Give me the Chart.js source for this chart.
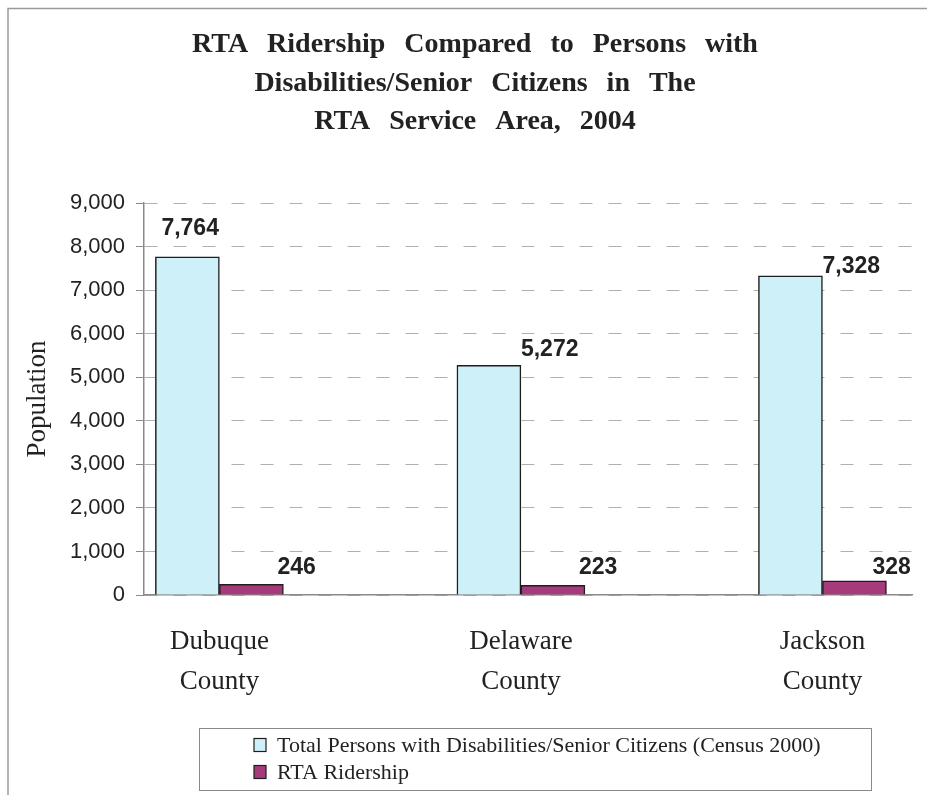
<!DOCTYPE html>
<html>
<head>
<meta charset="utf-8">
<script src="https://cdn.jsdelivr.net/npm/chart.js@4.4.1/dist/chart.umd.min.js"></script>
<style>
  html, body { margin: 0; padding: 0; background: #ffffff; }
  #wrap { width: 927px; height: 795px; position: relative; }
  canvas { display: block; }
</style>
</head>
<body>
<div id="wrap"><canvas id="c" width="927" height="795"></canvas></div>
<script>
// ---- data ----
const titleLines = ["RTA Ridership Compared to Persons with", "Disabilities/Senior Citizens in The", "RTA Service Area, 2004"];
const categories = [["Dubuque", "County"], ["Delaware", "County"], ["Jackson", "County"]];
const seriesNames = ["Total Persons with Disabilities/Senior Citizens (Census 2000)", "RTA Ridership"];
const totalPersons = [7764, 5272, 7328];
const rtaRidership = [246, 223, 328];
const yTicks = [0, 1000, 2000, 3000, 4000, 5000, 6000, 7000, 8000, 9000];
const yTitle = "Population";

// ---- styles ----
const colLight = "rgb(206,240,248)";
const colPink = "rgb(166,58,122)";
const colBorder = "#1e1e1e";
const textCol = "#222222";
const serif = "'Liberation Serif', 'Times New Roman', serif";
const sans = "'Liberation Sans', Arial, sans-serif";

const toXY = arr => arr.map((v, i) => ({ x: i, y: v }));

// label placement (dx: label left edge relative to bar right edge; dy: label centre relative to bar top)
const labelPlacement = [
  [[-58, -28], [0, -16], [0, -9]],
  [[-6, -17], [-6, -18], [-14, -13]]
];

const decorPlugin = {
  id: 'decor',
  afterDraw(chart) {
    const ctx = chart.ctx;
    ctx.save();
    // outer frame
    ctx.strokeStyle = '#9a9a9a';
    ctx.lineWidth = 1.5;
    ctx.beginPath();
    ctx.moveTo(8, 795); ctx.lineTo(8, 8.5); ctx.lineTo(927, 8.5);
    ctx.stroke();

    // title (word-spaced)
    ctx.fillStyle = textCol;
    ctx.font = "bold 28px " + serif;
    ctx.textBaseline = 'middle';
    ctx.textAlign = 'left';
    const titleY = [45, 84, 122];
    const extraSpace = 12;
    titleLines.forEach((line, li) => {
      const words = line.split(' ');
      const spaceW = ctx.measureText(' ').width + extraSpace;
      const widths = words.map(w => ctx.measureText(w).width);
      const total = widths.reduce((a, b) => a + b, 0) + spaceW * (words.length - 1);
      let x = 475 - total / 2;
      words.forEach((w, wi) => {
        ctx.fillText(w, x, titleY[li]);
        x += widths[wi] + spaceW;
      });
    });

    // data labels
    ctx.font = "bold 23px " + sans;
    ctx.textAlign = 'left';
    ctx.textBaseline = 'middle';
    chart.data.datasets.forEach((ds, di) => {
      const meta = chart.getDatasetMeta(di);
      meta.data.forEach((bar, i) => {
        const right = bar.x + bar.width / 2;
        const p = labelPlacement[di][i];
        ctx.fillText(ds.data[i].y.toLocaleString('en-US'), right + p[0], bar.y + p[1]);
      });
    });

    // legend
    ctx.strokeStyle = '#8a8a8a';
    ctx.lineWidth = 1;
    ctx.strokeRect(199.5, 728.5, 672, 62);
    const rows = [745, 772];
    const fills = [colLight, colPink];
    ctx.font = "22px " + serif;
    ctx.textBaseline = 'middle';
    seriesNames.forEach((name, i) => {
      ctx.fillStyle = fills[i];
      ctx.fillRect(254, rows[i] - 6.5, 12, 13);
      ctx.strokeStyle = colBorder;
      ctx.lineWidth = 1.2;
      ctx.strokeRect(254, rows[i] - 6.5, 12, 13);
      ctx.fillStyle = textCol;
      ctx.fillText(name, 277, rows[i] + 1);
    });
    ctx.restore();
  }
};

new Chart(document.getElementById('c'), {
  type: 'bar',
  data: {
    datasets: [
      { label: seriesNames[0], data: toXY(totalPersons), backgroundColor: colLight, borderColor: colBorder, borderWidth: 1.5, barThickness: 64 },
      { label: seriesNames[1], data: toXY(rtaRidership), backgroundColor: colPink, borderColor: colBorder, borderWidth: 1.5, barThickness: 64 }
    ]
  },
  options: {
    responsive: false,
    animation: false,
    devicePixelRatio: 1,
    layout: { padding: { top: 203, right: 15, bottom: 0, left: 0 } },
    plugins: {
      legend: { display: false },
      title: { display: false },
      tooltip: { enabled: false }
    },
    scales: {
      x: {
        type: 'linear',
        offset: false,
        min: -0.25,
        max: 2.297,
        afterBuildTicks: s => { s.ticks = categories.map((c, i) => ({ value: i })); },
        afterFit: s => { s.height = 200; },
        grid: { display: false, drawTicks: false, offset: false },
        border: { display: true, color: '#8a8a8a', width: 1.5 },
        ticks: {
          autoSkip: false,
          maxRotation: 0,
          padding: 27,
          color: textCol,
          font: { family: serif, size: 27, lineHeight: '40px' },
          callback: v => categories[v] || ''
        }
      },
      y: {
        min: 0,
        max: 9000,
        afterBuildTicks: s => { s.ticks = yTicks.map(v => ({ value: v })); },
        afterFit: s => { s.width = 144; },
        grid: { color: '#b0b0b0', lineWidth: 1, tickLength: 8, tickColor: '#8a8a8a', drawTicks: true },
        border: { display: true, color: '#8a8a8a', width: 1.5, dash: [13, 16] },
        ticks: {
          padding: 11,
          color: textCol,
          font: { family: sans, size: 22 },
          callback: v => v.toLocaleString('en-US')
        },
        title: {
          display: true,
          text: yTitle,
          color: textCol,
          font: { family: serif, size: 27 },
          padding: { top: 22, bottom: 0 }
        }
      }
    }
  },
  plugins: [decorPlugin]
});
</script>
</body>
</html>
